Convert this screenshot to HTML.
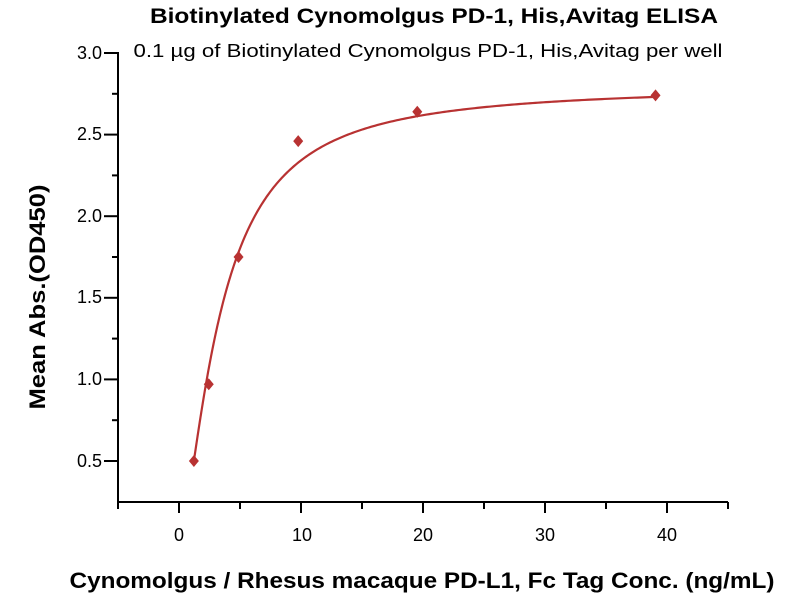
<!DOCTYPE html>
<html><head><meta charset="utf-8"><style>
body{margin:0;background:#fff;}
svg text{font-family:"Liberation Sans",sans-serif;fill:#000;}
</style></head><body>
<svg id="s" width="800" height="600" viewBox="0 0 800 600" xmlns="http://www.w3.org/2000/svg">
<text x="434" y="23" text-anchor="middle" font-size="21" font-weight="bold" textLength="568" lengthAdjust="spacingAndGlyphs">Biotinylated Cynomolgus PD-1, His,Avitag ELISA</text>
<text x="428" y="57" text-anchor="middle" font-size="18" textLength="589" lengthAdjust="spacingAndGlyphs">0.1 µg of Biotinylated Cynomolgus PD-1, His,Avitag per well</text>
<g stroke="#000" stroke-width="2" fill="none">
<line x1="118" y1="52" x2="118" y2="503"/>
<line x1="117" y1="502" x2="728" y2="502"/>
<g id="ticks"></g>
</g>
<g font-size="18" text-anchor="end">
<text x="102" y="59">3.0</text>
<text x="102" y="140">2.5</text>
<text x="102" y="222">2.0</text>
<text x="102" y="303">1.5</text>
<text x="102" y="385">1.0</text>
<text x="102" y="467">0.5</text>
</g>
<g font-size="18" text-anchor="middle">
<text x="179" y="541">0</text>
<text x="302" y="541">10</text>
<text x="423" y="541">20</text>
<text x="545" y="541">30</text>
<text x="667" y="541">40</text>
</g>
<text x="422" y="588" text-anchor="middle" font-size="22" font-weight="bold" textLength="705" lengthAdjust="spacingAndGlyphs">Cynomolgus / Rhesus macaque PD-L1, Fc Tag Conc. (ng/mL)</text>
<text transform="translate(45,297) rotate(-90)" text-anchor="middle" font-size="22" font-weight="bold" textLength="225" lengthAdjust="spacingAndGlyphs">Mean Abs.(OD450)</text>
<path id="curve" fill="none" stroke="#b83232" stroke-width="2.2"/>
<g id="pts" fill="#b83232"></g>
</svg>
<script>
function X(v){return 179+v*12.2;}
function Y(v){return 53+(3-v)*163.2;}
var t="";
for(var v=0.5;v<=3.001;v+=0.25){var maj=Math.abs(v*2-Math.round(v*2))<1e-6;t+='<line x1="'+(maj?104:112)+'" y1="'+Y(v)+'" x2="118" y2="'+Y(v)+'"/>';}
for(var x=-5;x<=45;x+=5){var maj=x%10==0;t+='<line x1="'+X(x)+'" y1="502" x2="'+X(x)+'" y2="'+(maj?513:509)+'"/>';}
document.getElementById("ticks").innerHTML=t;
var d="";
for(var i=0;i<=300;i++){var x=1.22+(39.06-1.22)*Math.pow(i/300,2);var y=2.8/(1+Math.pow(3.37/x,1.5));d+=(i?"L":"M")+X(x).toFixed(2)+" "+Y(y).toFixed(2);}
document.getElementById("curve").setAttribute("d",d);
var P=[[1.22,0.5],[2.44,0.97],[4.88,1.75],[9.77,2.46],[19.53,2.64],[39.06,2.74]],p="";
P.forEach(function(q){var cx=X(q[0]),cy=Y(q[1]);p+='<polygon points="'+cx+','+(cy-6)+' '+(cx+5)+','+cy+' '+cx+','+(cy+6)+' '+(cx-5)+','+cy+'"/>';});
document.getElementById("pts").innerHTML=p;
</script>
</body></html>
